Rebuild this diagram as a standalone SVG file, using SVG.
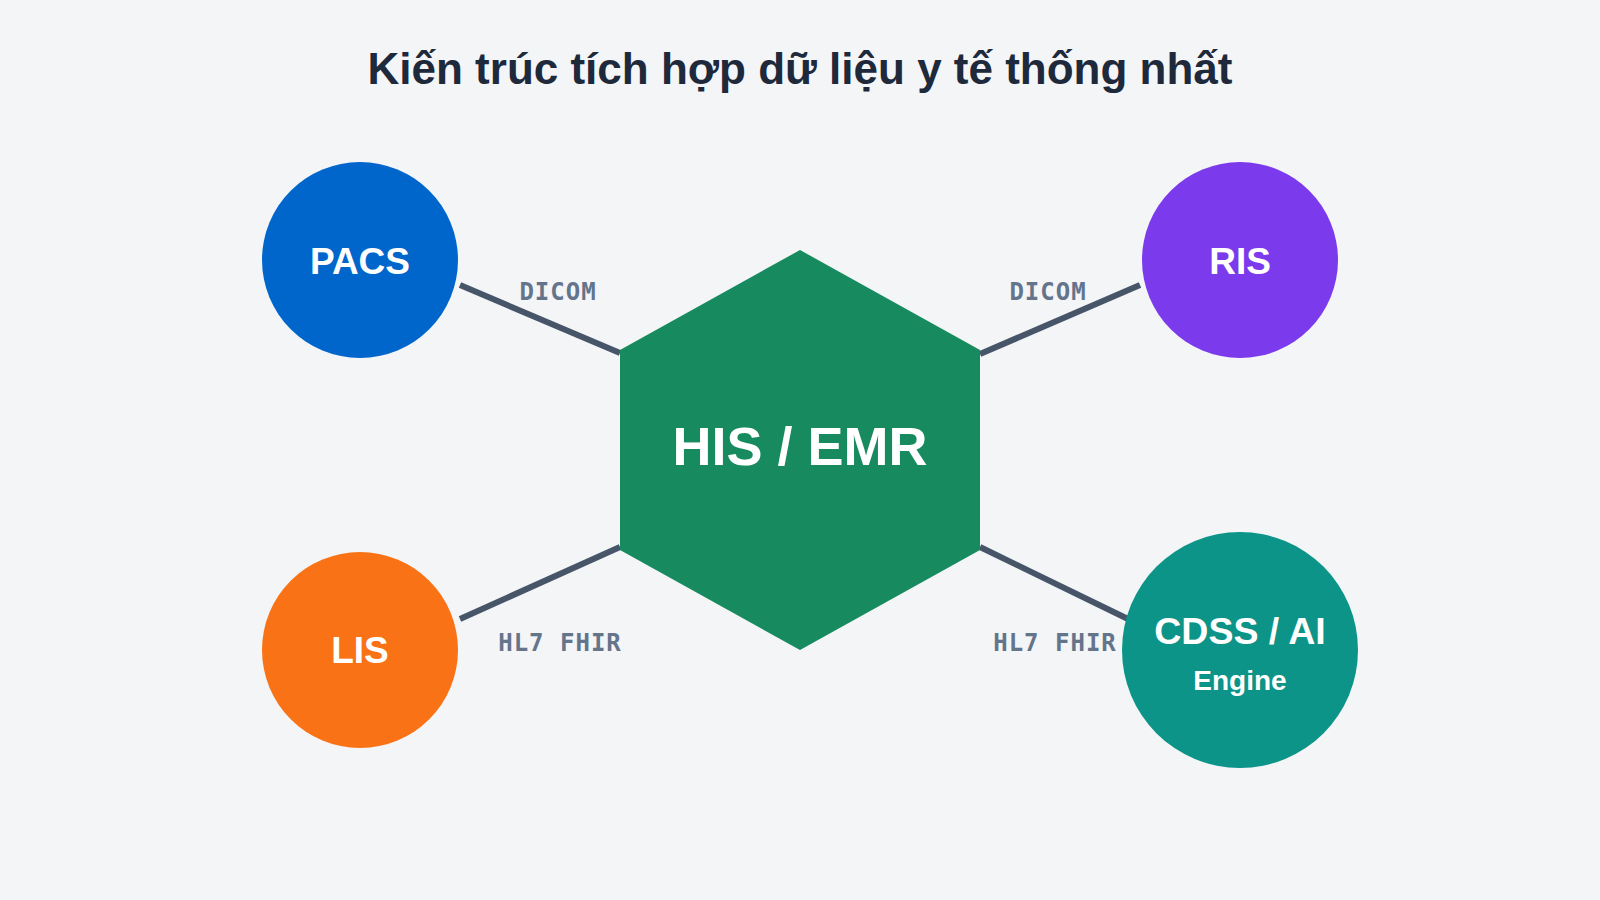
<svg xmlns="http://www.w3.org/2000/svg" width="1600" height="900" viewBox="0 0 1600 900">
  <style>
    .title { font-family: "Liberation Sans", Arial, sans-serif; font-weight: bold; font-size: 44px; fill: #1e293b; text-anchor: middle; }
    .conn { stroke: #475569; stroke-width: 6; fill: none; }
    .proto { font-family: "DejaVu Sans Mono", "Liberation Mono", monospace; font-weight: bold; font-size: 24px; letter-spacing: 1px; fill: #64748b; text-anchor: middle; }
    .lbl { font-family: "Liberation Sans", Arial, sans-serif; font-weight: bold; fill: #ffffff; text-anchor: middle; }
  </style>
  <rect width="1600" height="900" fill="#f3f5f7"/>
  <text class="title" x="800" y="84">Kiến trúc tích hợp dữ liệu y tế thống nhất</text>

  <g id="connectors">
    <line class="conn" x1="460" y1="285" x2="620" y2="353"/>
    <line class="conn" x1="980" y1="354" x2="1140" y2="285"/>
    <line class="conn" x1="460" y1="619" x2="620" y2="547"/>
    <line class="conn" x1="980" y1="547" x2="1128" y2="619"/>
    <text class="proto" x="558" y="300">DICOM</text>
    <text class="proto" x="1048" y="300">DICOM</text>
    <text class="proto" x="560" y="651">HL7 FHIR</text>
    <text class="proto" x="1055" y="651">HL7 FHIR</text>
  </g>

  <g id="his-emr">
    <polygon points="800,250 980,350 980,550 800,650 620,550 620,350" fill="#178b5f"/>
    <text class="lbl" x="800" y="465" font-size="54">HIS / EMR</text>
  </g>
  <g id="pacs">
    <circle cx="360" cy="260" r="98" fill="#0066cc"/>
    <text class="lbl" x="360" y="274" font-size="37">PACS</text>
  </g>
  <g id="ris">
    <circle cx="1240" cy="260" r="98" fill="#7c3aed"/>
    <text class="lbl" x="1240" y="274" font-size="37">RIS</text>
  </g>
  <g id="lis">
    <circle cx="360" cy="650" r="98" fill="#f97316"/>
    <text class="lbl" x="360" y="663" font-size="37">LIS</text>
  </g>
  <g id="cdss">
    <circle cx="1240" cy="650" r="118" fill="#0d9488"/>
    <text class="lbl" x="1240" y="644" font-size="37.5">CDSS / AI</text>
    <text class="lbl" x="1240" y="690" font-size="28">Engine</text>
  </g>
</svg>
